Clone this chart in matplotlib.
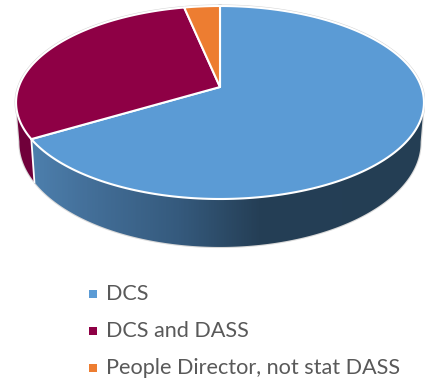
import numpy as np
import matplotlib
matplotlib.use("Agg")
import matplotlib.pyplot as plt
from matplotlib.colors import LinearSegmentedColormap
from matplotlib.patches import Polygon

labels = ["DCS", "DCS and DASS", "People Director, not stat DASS"]
values = [66.5, 30.2, 3.3]
colors = ["#5b9bd5", "#8e0045", "#ed7d31"]
wall_maroon = "#70003a"

plt.rcParams["font.family"] = ["Lato", "DejaVu Sans"]

W, H = 425, 383
fig = plt.figure(figsize=(W / 100, H / 100), dpi=100)
ax = fig.add_axes([0, 0, 1, 1])
ax.set_axis_off()


# disc -> pixel mapping with a little perspective, angle clockwise from 12 o'clock
def project(deg, radius, a, b, k=0.1606, cx=220):
    t = np.radians(np.atleast_1d(deg))
    u, v = np.sin(t), np.cos(t)
    w = 1 + k * v
    return np.column_stack([cx + radius * u / w, (a + b * v) / w])


def top(deg):
    return project(deg, 201.3, 87, -80.04)


def bottom(deg):
    return project(deg, 198, 125.6, -81.7)


edges = np.cumsum([0] + values) / sum(values) * 360
apex = np.array([[220, 87]])

# side wall runs between the two tangent points, blue part has a horizontal gradient
arc = np.linspace(99, edges[1], 200)
wall = np.vstack([top(arc), bottom(arc)[::-1]])
cmap = LinearSegmentedColormap.from_list("wall", [
    (0, "#5288b8"), (0.2, "#44709a"), (0.42, "#355a7d"),
    (0.61, "#253f56"), (1, "#243e54")])
grad = np.linspace(0, 1, 425).reshape(1, -1)
im = ax.imshow(grad, cmap=cmap, extent=(0, W, H, 0), aspect="auto", zorder=2)
im.set_clip_path(Polygon(wall, transform=ax.transData))

arc2 = np.linspace(edges[1], 261, 60)
ax.add_patch(Polygon(np.vstack([top(arc2), bottom(arc2)[::-1]]),
                     fc=wall_maroon, ec="none", zorder=2))

# soft outline round the whole body
full = np.linspace(0, 360, 361)
rim = np.linspace(99, 261, 240)
ax.plot(*np.vstack([top(99), bottom(rim), top(261)]).T, color="#d9d9d9", lw=1.6, zorder=1)
ax.plot(*top(full).T, color="#d4d4d4", lw=2.2, zorder=1)

# seam between the two wall colours
seam = np.vstack([top(edges[1]), bottom(edges[1])])
ax.plot(*seam.T, color="white", lw=1.3, zorder=3)

# top face
for i in range(3):
    a = np.linspace(edges[i], edges[i + 1], 200)
    ax.add_patch(Polygon(np.vstack([apex, top(a)]), fc=colors[i],
                         ec="white", lw=1.5, joinstyle="round", zorder=4))

# legend
for i, name in enumerate(labels):
    y = 294 + 37 * i
    ax.scatter([93], [y], marker="s", s=28, color=colors[i], linewidths=0, zorder=5)
    ax.text(106, y, name, fontsize=15.6, color="#595959", va="center", ha="left")

ax.set_xlim(0, W)
ax.set_ylim(H, 0)
fig.savefig("out.png", dpi=100)
